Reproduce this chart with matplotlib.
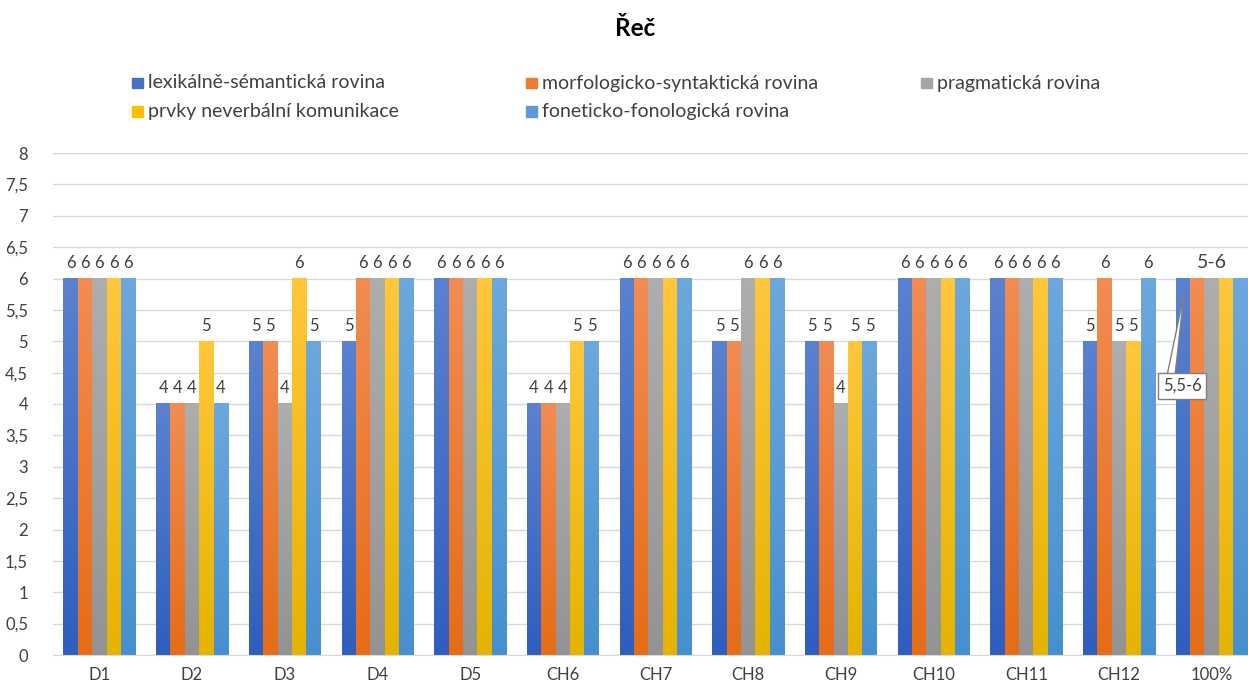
import numpy as np
import matplotlib
matplotlib.use("Agg")
import matplotlib.pyplot as plt
from matplotlib.colors import LinearSegmentedColormap, to_rgb
from matplotlib.patches import Rectangle, Polygon

plt.rcParams['font.family'] = ['Lato', 'DejaVu Sans']

categories = ["D1", "D2", "D3", "D4", "D5", "CH6", "CH7", "CH8", "CH9",
              "CH10", "CH11", "CH12", "100%"]
series_names = ["lexikálně-sémantická rovina", "morfologicko-syntaktická rovina",
                "pragmatická rovina", "prvky neverbální komunikace",
                "foneticko-fonologická rovina"]
lexikalne = [6, 4, 5, 5, 6, 4, 6, 5, 5, 6, 6, 5, 6]
morfologicko = [6, 4, 5, 6, 6, 4, 6, 5, 5, 6, 6, 6, 6]
pragmaticka = [6, 4, 4, 6, 6, 4, 6, 6, 4, 6, 6, 5, 6]
neverbalni = [6, 5, 6, 6, 6, 5, 6, 6, 5, 6, 6, 5, 6]
foneticko = [6, 4, 5, 6, 6, 5, 6, 6, 5, 6, 6, 6, 6]
series = [lexikalne, morfologicko, pragmaticka, neverbalni, foneticko]
summary_label = "5-6"
callout_label = "5,5-6"

# gradient (top colour, bottom colour) per series
top_colors = ["#5B82D0", "#F28C52", "#AEAEAE", "#FFC73A", "#6CA8DD"]
bottom_colors = ["#2E5EBE", "#E66C17", "#939393", "#E5B300", "#4590CF"]
legend_colors = ["#4472C4", "#ED7D31", "#A5A5A5", "#FFC000", "#5B9BD5"]

fig = plt.figure(figsize=(12.48, 6.86), dpi=100)
ax = fig.add_axes([53 / 1248, 1 - 655 / 686, 1205 / 1248, (655 - 153) / 686])

n = len(series)
bw = 0.155
x = np.arange(len(categories))
grad = np.linspace(0, 1, 256).reshape(-1, 1)

for i, vals in enumerate(series):
    cmap = LinearSegmentedColormap.from_list(
        f"g{i}", [to_rgb(bottom_colors[i]), to_rgb(top_colors[i])])
    offs = (i - (n - 1) / 2) * bw
    bars = ax.bar(x + offs, vals, bw, color="none", edgecolor="none", zorder=2)
    for b, v in zip(bars, vals):
        x0 = b.get_x()
        ax.imshow(grad, cmap=cmap, origin="lower", aspect="auto",
                  extent=[x0, x0 + bw, 0, v], zorder=2, interpolation="bilinear")
    for j, (xx, v) in enumerate(zip(x + offs, vals)):
        if categories[j] == "100%":
            continue
        ax.text(xx, v + 0.12, str(v), ha="center", va="bottom",
                fontsize=12, color="#404040", zorder=4)

# summary label above the last group and a callout for its first bar
last = len(categories) - 1
ax.text(x[last], lexikalne[last] + 0.12, summary_label, ha="center", va="bottom",
        fontsize=14, color="#404040", zorder=4)
first_x = x[last] - (n - 1) / 2 * bw
box_x, box_y = x[last] - 0.32, 4.29
tip = (first_x + 0.01, lexikalne[last] - 0.26)
ax.text(box_x, box_y, callout_label, ha="center", va="center",
        fontsize=12, color="#404040", zorder=6,
        bbox=dict(boxstyle="square,pad=0.3", fc="white", ec="#7F7F7F", lw=1))
ax.add_patch(Polygon([(box_x - 0.17, box_y + 0.1), tip, (box_x - 0.08, box_y + 0.1)],
                     closed=True, fc="white", ec="#7F7F7F", lw=1, zorder=5))

ax.set_xlim(-0.5, len(categories) - 0.5)
ax.set_ylim(0, 8)
yt = np.arange(0, 8.01, 0.5)
ax.set_yticks(yt)
ax.set_yticklabels([("%g" % t).replace(".", ",") for t in yt], fontsize=12,
                   color="#404040")
ax.set_xticks(x)
ax.set_xticklabels(categories, fontsize=12, color="#404040")
ax.tick_params(axis="both", length=0)
ax.tick_params(axis="x", pad=9)
ax.tick_params(axis="y", pad=18)
ax.grid(axis="y", color="#D9D9D9", lw=1, zorder=0)
ax.set_axisbelow(True)
for s in ["top", "right", "left"]:
    ax.spines[s].set_visible(False)
ax.spines["bottom"].set_color("#D9D9D9")

fig.text(635 / 1248, 1 - 29 / 686, "Řeč", ha="center", va="center",
         fontsize=17.5, fontweight="bold", color="#000000")

# legend entries laid out in rows of three
legend_pos = [(132, 83), (526, 83), (921, 83), (132, 111.5), (526, 111.5)]
for (px, py), name, c in zip(legend_pos, series_names, legend_colors):
    fig.patches.append(Rectangle((px / 1248, 1 - (py + 5) / 686), 10.5 / 1248, 10.5 / 686,
                                 transform=fig.transFigure, color=c))
    fig.text((px + 16) / 1248, 1 - py / 686, name, ha="left", va="center",
             fontsize=14, color="#404040")

fig.savefig("out.png", dpi=100)
